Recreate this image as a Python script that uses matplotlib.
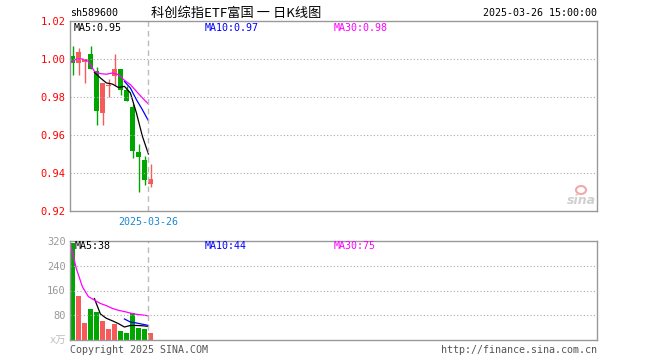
import numpy as np
import matplotlib
matplotlib.use("Agg")
import matplotlib.pyplot as plt
from matplotlib.patches import Ellipse

# daily candles (oldest -> newest), last day 2025-03-26
opens = [1.0018, 0.9977, 0.9986, 1.0028, 0.9935, 0.9714, 0.9856,
         0.9909, 0.9947, 0.9835, 0.9746, 0.9511, 0.9470, 0.9340]
closes = [0.9979, 1.0037, 1.0000, 0.9949, 0.9725, 0.9874, 0.9865,
          0.9947, 0.9835, 0.9777, 0.9514, 0.9484, 0.9361, 0.9370]
highs = [1.0070, 1.0058, 1.0000, 1.0070, 0.9958, 0.9874, 0.9895,
         1.0028, 0.9947, 0.9856, 0.9765, 0.9554, 0.9491, 0.9449]
lows = [0.9914, 0.9914, 0.9874, 0.9949, 0.9651, 0.9651, 0.9800,
        0.9865, 0.9812, 0.9777, 0.9479, 0.9298, 0.9335, 0.9325]

# moving averages of price (start index, values)
ma5_start, ma5 = 4, [0.993, 0.990, 0.9874, 0.9868, 0.985, 0.9856, 0.9821, 0.9716, 0.9593, 0.950]
ma10_start, ma10 = 9, [0.9882, 0.9847, 0.9786, 0.9733, 0.9675]
ma30_start, ma30 = 0, [0.9979, 1.000, 1.000, 0.9988, 0.9935, 0.9923, 0.992,
                       0.9926, 0.9918, 0.9888, 0.9865, 0.983, 0.9795, 0.9763]

# volume (万) and its moving averages
volumes = [313, 142, 56, 101, 92, 60, 34, 52, 30, 24, 88, 40, 34, 24]
vma5_start, vma5 = 4, [134, 84, 70, 62, 53, 42, 47, 47, 46, 44]
vma10_start, vma10 = 9, [68, 58, 55, 51, 47]
vma30_start, vma30 = 0, [310, 230, 172, 140, 129, 118, 111, 102, 96, 92, 87, 83, 81, 78]

price_ticks = [0.92, 0.94, 0.96, 0.98, 1.00, 1.02]
vol_ticks = [0, 80, 160, 240, 320]
vol_tick_labels = ["x万", "80", "160", "240", "320"]
last_date = "2025-03-26"

RED = "#f65a5a"
GREEN = "#00a600"
BORDER = "#999999"
MONO = ["DejaVu Sans Mono", "Noto Sans CJK SC"]

W, H = 660, 360
fig = plt.figure(figsize=(6.6, 3.6), dpi=100)


def px_axes(x0, y0, x1, y1):
    return fig.add_axes([x0 / W, 1 - y1 / H, (x1 - x0) / W, (y1 - y0) / H])


ax = px_axes(70, 21, 597, 211)
axv = px_axes(70, 241, 597, 340)

n = len(opens)
idx = np.arange(n)
xlim = (-0.42, 87.42)
cut = n - 1 - 0.37
colors = [RED if c >= o else GREEN for o, c in zip(opens, closes)]

# candles
for i in range(n):
    ax.vlines(i, lows[i], highs[i], color=colors[i], lw=1)
    lo, hi = sorted([opens[i], closes[i]])
    ax.bar(i, max(hi - lo, 0.0004), bottom=lo, width=0.8, color=colors[i], lw=0)

for start, vals, c in [(ma5_start, ma5, "black"), (ma10_start, ma10, "blue"),
                       (ma30_start, ma30, "magenta")]:
    ax.plot(np.arange(start, start + len(vals)) - 0.35, vals, color=c, lw=0.9)

ax.bar(idx, [0] * n)
axv.bar(idx, volumes, width=0.8, color=colors, lw=0)
for start, vals, c in [(vma5_start, vma5, "black"), (vma10_start, vma10, "blue"),
                       (vma30_start, vma30, "magenta")]:
    axv.plot(np.arange(start, start + len(vals)) - 0.35, vals, color=c, lw=0.9)

for a, ticks, lim in [(ax, price_ticks, (0.92, 1.02)), (axv, vol_ticks, (0, 320))]:
    a.set_xlim(*xlim)
    a.set_ylim(*lim)
    a.set_xticks([])
    a.set_yticks(ticks)
    a.tick_params(axis="y", length=0, pad=3)
    for s in a.spines.values():
        s.set_color(BORDER)
        s.set_linewidth(1)
    for t in ticks[1:-1]:
        a.axhline(t, color="#aaaaaa", lw=0.8, ls=(0, (1, 2)))
    a.axvline(cut, color="#bbbbbb", lw=1, ls=(0, (4, 3)))

ax.set_yticklabels([f"{t:.2f}" for t in price_ticks], color="red", fontsize=7.5, family=MONO)
axv.set_yticklabels(vol_tick_labels, color="#999999", fontsize=7.5, family=MONO)
axv.get_yticklabels()[0].set_color("#c0c0c0")

# header texts
def ftext(x, y, s, **kw):
    kw.setdefault("family", MONO)
    kw.setdefault("fontsize", 7.2)
    kw.setdefault("va", "center")
    fig.text(x / W, 1 - y / H, s, **kw)


ftext(70, 13, "sh589600")
ftext(236, 13, "科创综指ETF富国 一 日K线图", ha="center", fontsize=9.5,
      family=["Noto Sans CJK SC", "DejaVu Sans"])
ftext(597, 13, "2025-03-26 15:00:00", ha="right")

ftext(74, 28, f"MA5:{ma5[-1]:.2f}", color="black")
ftext(205, 28, f"MA10:{ma10[-1]:.2f}", color="blue")
ftext(334, 28, f"MA30:{ma30[-1]:.2f}", color="magenta")

ftext(75, 246, "MA5:38", color="black")
ftext(205, 246, "MA10:44", color="blue")
ftext(334, 246, "MA30:75", color="magenta")

ftext(148, 222, last_date, ha="center", color="#1a88d0")

ftext(70, 350, "Copyright 2025 SINA.COM", color="#555555")
ftext(597, 350, "http://finance.sina.com.cn", ha="right", color="#555555")

# sina watermark
ftext(596, 201, "sina", ha="right", fontsize=9, color="#cfcfcf", style="italic",
      weight="bold", family=["DejaVu Sans"])
fig.add_artist(Ellipse((581 / W, 1 - 190 / H), 10 / W, 8 / H, transform=fig.transFigure,
                       fc="none", ec="#f2a8a8", lw=1.5))

fig.savefig("out.png", dpi=100)
